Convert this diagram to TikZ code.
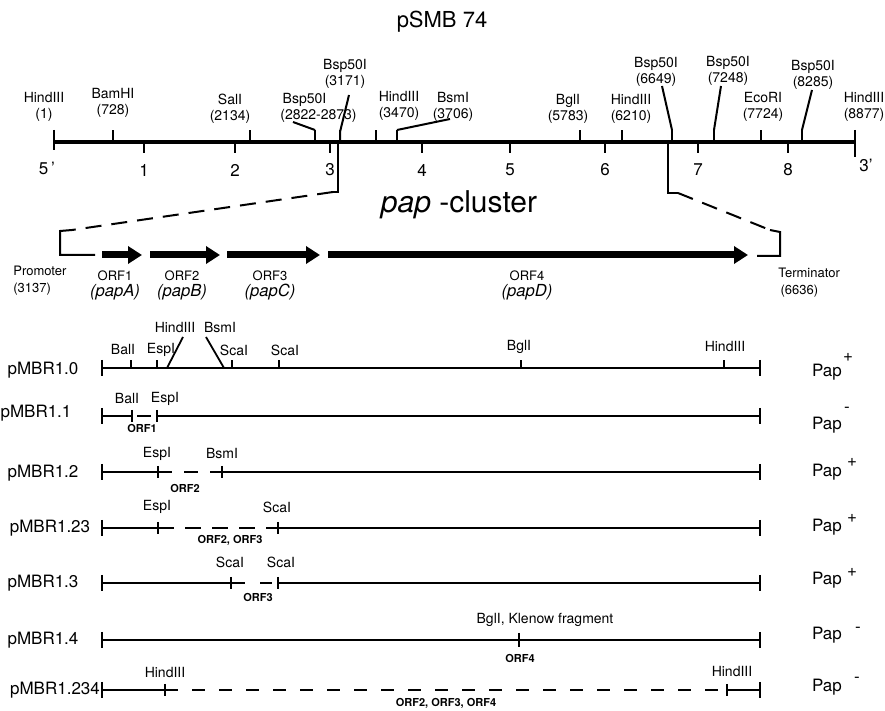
\documentclass[tikz,border=0pt]{standalone}
\usepackage{fontspec}
\setmainfont{TeX Gyre Heros}
\usetikzlibrary{arrows.meta,calc}

\begin{document}
\begin{tikzpicture}[x=0.5pt, y=-0.5pt,
   site/.style={font=\fontsize{7}{8}\selectfont, align=center, inner sep=0pt},
   sitehi/.style={font=\fontsize{7}{6.5}\selectfont, align=center, inner sep=0pt},
   kbn/.style={font=\fontsize{8.5}{9}\selectfont, inner sep=0pt},
   plas/.style={font=\fontsize{8.5}{9}\selectfont, inner sep=0pt},
   orfn/.style={font=\fontsize{6.5}{8.5}\selectfont, inner sep=0pt},
   papn/.style={font=\fontsize{8.3}{9}\selectfont\itshape, inner sep=0pt},
   orftag/.style={font=\fontsize{5.5}{6}\selectfont\bfseries, inner sep=0pt},
   gene/.style={line width=3.5pt, -{Triangle[length=7pt,width=8.5pt]}},
   cons/.style={line width=0.9pt},
   maptick/.style={line width=1pt}]
  \useasboundingbox (0,0) rectangle (885,711);
  \node[font=\fontsize{11}{12}\selectfont] (title) at (442,22) {pSMB 74};
  % physical map
  \coordinate (m5) at (54,142);
  \coordinate (m3) at (855,142);
  \draw[line width=2pt] (m5) -- (m3);
  \draw[maptick] (54,130) -- (54,150);
  \draw[maptick] (855,130) -- (855,157);
  \foreach \x/\k in {144/1,235/2,330/3,422/4,510/5,605/6,698/7,788/8}{
     \draw[maptick] (\x,142) -- (\x,153);
     \node[kbn] (kb\k) at (\x,170) {\k};}
  \node[kbn] (five) at (47,168) {5\,'};
  \node[kbn] (three) at (866,165) {3'};
  \foreach \x in {113,250,315,340,376,397,580,622,672,714,761,802}
     \draw[maptick] (\x,142) -- (\x,130);
  \foreach \x/\y/\t [count=\i] in {44/107/{HindIII\\(1)},113/103/{BamHI\\(728)},
        230/109/{SalI\\(2134)},399/106/{HindIII\\(3470)},453/107/{BsmI\\(3706)},
        568/109/{BglI\\(5783)},631/109/{HindIII\\(6210)},763/107/{EcoRI\\(7724)},
        864/107/{HindIII\\(8877)}}
     \node[site] (s\i) at (\x,\y) {\t};
  \node[site, align=left, anchor=west] (bsp1) at (280,108) {\,Bsp50I\\(2822-2873)};
  \foreach \x/\y/\t [count=\i from 2] in {345/74/3171,656/72/6649,728/71/7248,813/75/8285}
     \node[sitehi] (bsp\i) at (\x,\y) {Bsp50I\\(\t)};
  \draw[maptick] (315,130) -- (293,122);
  \draw[maptick] (340,142) -- (340,132) -- (349,95);
  \draw[maptick] (397,130) -- (450,119);
  \draw[maptick] (672,130) -- (662,86);
  \draw[maptick] (714,130) -- (721,86);
  \draw[maptick] (802,130) -- (812,90);
  % expansion of the cluster
  \draw[maptick] (338,142) -- (338,192) -- (333,192);
  \draw[maptick, dash pattern=on 8pt off 5pt] (333,192) -- (72,230);
  \draw[maptick] (72,230) -- (60,231) -- (60,255) -- (95,255);
  \draw[maptick] (668,142) -- (668,193) -- (678,193);
  \draw[maptick, dash pattern=on 8pt off 5pt] (678,193) -- (770,230);
  \draw[maptick] (770,230) -- (780,232) -- (780,256) -- (757,256);
  \node[font=\fontsize{15}{16}\selectfont, anchor=base] (clus) at (459,213) {\textit{pap} -cluster};
  % genes
  \foreach \a/\b in {102/142,150/220,227/320,328/748}
     \draw[gene] (\a,255) -- (\b,255);
  \foreach \x/\n/\g in {115/1/A,182/2/B,270/3/C,527/4/D}{
     \node[orfn] (orf\n) at (\x,276) {ORF\n};
     \node[papn] (pap\g) at (\x,292) {(pap\g)};}
  \node[orfn, align=left, anchor=west] (prom) at (13,281) {Promoter\\(3137)};
  \node[orfn, align=left, anchor=west] (term) at (778,283) {Terminator\\\,(6636)};
  % deletion constructs
  \foreach \y [count=\i from 0] in {368,416,472,528,583,640,690}{
     \coordinate (L\i) at (102,\y);
     \coordinate (R\i) at (760,\y);
     \draw[cons] ($(L\i)+(0,-8)$) -- ($(L\i)+(0,8)$);
     \draw[cons] ($(R\i)+(0,-8)$) -- ($(R\i)+(0,8)$);}
  \foreach \x/\y/\t [count=\i from 0] in {43/370/pMBR1.0,36/413/pMBR1.1,43/473/pMBR1.2,
        50/528/pMBR1.23,43/583/pMBR1.3,43/640/pMBR1.4,55/690/pMBR1.234}
     \node[plas] (name\i) at (\x,\y) {\t};
  \foreach \y/\s/\sx/\sy [count=\i from 0] in {372/+/848/357,425/-/847/410,472/+/852/462,
        527/+/852/518,580/+/852/572,635/-/858/630,687/-/857/680}{
     \node[plas] (ph\i) at (827,\y) {Pap};
     \node[plas] (sg\i) at (\sx,\sy) {\s};}
  % pMBR1.0
  \draw[cons] (L0) -- (R0);
  \foreach \x in {131,157,232,279,521,724}
     \draw[cons] (\x,368) -- (\x,360);
  \foreach \x/\y/\t [count=\i] in {123/350/BalI,161/350/EspI,234/350/ScaI,285/350/ScaI,
        519/347/BglI,725/347/HindIII,175/328/HindIII,220/328/BsmI}
     \node[site] (a\i) at (\x,\y) {\t};
  \draw[cons] (167,368) -- (183,337);
  \draw[cons] (224,368) -- (206,337);
  % pMBR1.1
  \draw[cons] (L1) -- (132,416);
  \draw[cons] (137,416) -- (151,416);
  \draw[cons] (157,416) -- (R1);
  \foreach \x in {132,157} \draw[cons] (\x,410) -- (\x,422);
  \node[site] (b1) at (127,399) {BalI};
  \node[site] (b2) at (165,399) {EspI};
  \node[orftag] (b3) at (142,428) {ORF1};
  % pMBR1.2
  \draw[cons] (L2) -- (158,472);
  \draw[cons, dash pattern=on 7pt off 6pt] (158,472) -- (222,472);
  \draw[cons] (222,472) -- (R2);
  \foreach \x in {158,222} \draw[cons] (\x,466) -- (\x,478);
  \node[site] (c1) at (157,454) {EspI};
  \node[site] (c2) at (222,454) {BsmI};
  \node[orftag] (c3) at (185,488) {ORF2};
  % pMBR1.23
  \draw[cons] (L3) -- (158,528);
  \draw[cons, dash pattern=on 8pt off 5.5pt] (158,528) -- (278,528);
  \draw[cons] (278,528) -- (R3);
  \foreach \x in {158,278} \draw[cons] (\x,522) -- (\x,534);
  \node[site] (d1) at (157,507) {EspI};
  \node[site] (d2) at (277,507) {ScaI};
  \node[orftag] (d3) at (230,540) {ORF2, ORF3};
  % pMBR1.3
  \draw[cons] (L4) -- (231,583);
  \draw[cons, dash pattern=on 7pt off 7.5pt on 6pt off 3pt] (231,583) -- (278,583);
  \draw[cons] (278,583) -- (R4);
  \foreach \x in {231,278} \draw[cons] (\x,577) -- (\x,589);
  \node[site] (e1) at (230,562) {ScaI};
  \node[site] (e2) at (281,562) {ScaI};
  \node[orftag] (e3) at (258,597) {ORF3};
  % pMBR1.4
  \draw[cons] (L5) -- (R5);
  \draw[cons] (519,633) -- (519,647);
  \node[site] (f1) at (545,620) {BglI, Klenow fragment};
  \node[orftag] (f2) at (520,658) {ORF4};
  % pMBR1.234
  \draw[cons] (L6) -- (165,690);
  \draw[cons, dash pattern=on 6.5pt off 7pt] (165,690) -- (727,690);
  \draw[cons] (727,690) -- (R6);
  \foreach \x in {165,727} \draw[cons] (\x,684) -- (\x,696);
  \node[site] (g1) at (165,673) {HindIII};
  \node[site] (g2) at (732,672) {HindIII};
  \node[orftag] (g3) at (446,703) {ORF2, ORF3, ORF4};
\end{tikzpicture}
\end{document}
